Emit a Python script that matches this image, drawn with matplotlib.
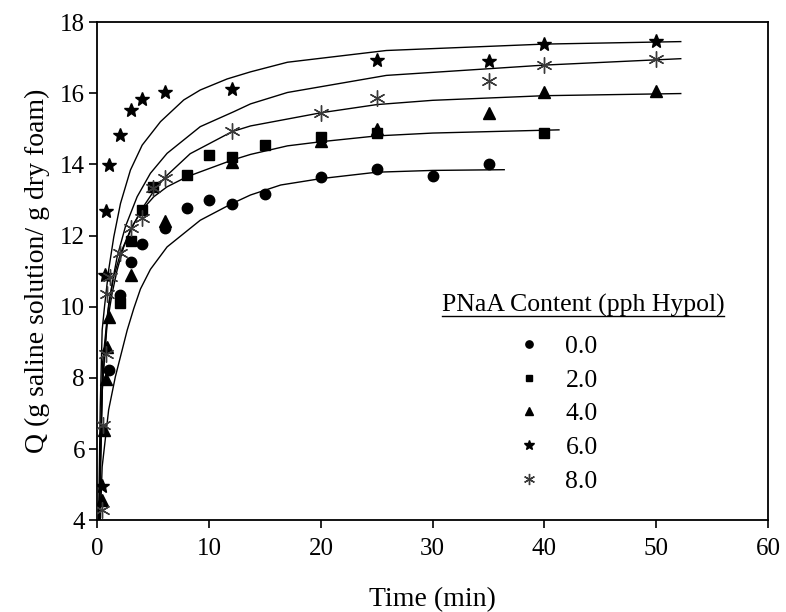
import matplotlib
matplotlib.use("Agg")
import matplotlib.pyplot as plt
from matplotlib.lines import Line2D

plt.rcParams["font.family"] = ["Liberation Serif", "DejaVu Serif"]

# ---------------------------------------------------------------
# Swelling data: Q (g saline / g dry foam) vs time (min)
# ---------------------------------------------------------------
t_00 = [1, 2, 3, 4, 6, 8, 10, 12, 15, 20, 25, 30, 35]
q_00 = [8.22, 10.33, 11.26, 11.76, 12.22, 12.77, 12.99, 12.9, 13.17, 13.64, 13.87, 13.67, 14.01]

t_20 = [2, 3, 4, 5, 8, 10, 12, 15, 20, 25, 40]
q_20 = [10.09, 11.85, 12.73, 13.37, 13.7, 14.26, 14.2, 14.55, 14.77, 14.87, 14.89]

t_40 = [0.42, 0.55, 0.72, 0.87, 1.0, 3, 6, 12, 20, 25, 35, 40, 50]
q_40 = [4.58, 6.53, 7.96, 8.88, 9.7, 10.89, 12.42, 14.07, 14.65, 15.0, 15.43, 16.03, 16.06]

t_60 = [0.42, 0.7, 0.8, 1.0, 2, 3, 4, 6, 12, 25, 35, 40, 50]
q_60 = [4.97, 10.89, 12.69, 13.98, 14.82, 15.53, 15.83, 16.04, 16.12, 16.92, 16.91, 17.39, 17.48]

t_80 = [0.42, 0.5, 0.72, 0.87, 1.1, 2, 3, 4, 5, 6, 12, 20, 25, 35, 40, 50]
q_80 = [4.3, 6.67, 8.68, 10.37, 10.84, 11.5, 12.2, 12.5, 13.33, 13.62, 14.94, 15.45, 15.86, 16.35, 16.78, 16.97]

# fitted curves
fit_t_00 = [0.25, 0.42, 1.0, 1.6, 2.66, 3.25, 3.85, 4.74, 6.23, 9.2, 12.05, 13.7, 16.4, 20, 25, 30, 36.4]
fit_q_00 = [4.0, 5.5, 7.1, 8.03, 9.34, 9.95, 10.5, 11.05, 11.68, 12.43, 12.9, 13.14, 13.42, 13.6, 13.78, 13.83, 13.85]

fit_t_20 = [0.17, 0.45, 0.87, 1.31, 1.76, 2.35, 3.1, 4.0, 5.04, 6.23, 8.0, 9.2, 12.05, 13.7, 17, 20.1, 25, 30, 41.3]
fit_q_20 = [4.0, 7.9, 9.53, 10.37, 11.03, 11.68, 12.25, 12.72, 13.09, 13.37, 13.65, 13.79, 14.12, 14.28, 14.52, 14.64, 14.8, 14.88, 14.97]

fit_t_40 = [0.15, 0.45, 1.01, 1.46, 2.06, 2.95, 4.0, 5.04, 6.08, 8.3, 12.05, 13.7, 20, 25, 30, 40, 52.2]
fit_q_40 = [4.0, 8.4, 10.09, 10.84, 11.5, 12.15, 12.76, 13.25, 13.65, 14.3, 14.92, 15.08, 15.45, 15.68, 15.8, 15.93, 15.99]

fit_t_60 = [0.1, 0.25, 0.42, 0.63, 1.0, 1.46, 2.06, 2.95, 4.0, 5.64, 7.72, 9.2, 11.6, 13.7, 17, 25.85, 40, 52.2]
fit_q_60 = [4.0, 7.2, 9.34, 10.0, 11.03, 11.96, 12.9, 13.84, 14.54, 15.2, 15.81, 16.09, 16.4, 16.6, 16.87, 17.2, 17.38, 17.45]

fit_t_80 = [0.15, 0.4, 0.87, 1.31, 1.76, 2.5, 3.55, 4.74, 6.23, 9.2, 12.2, 13.7, 17, 25.85, 40, 52.2]
fit_q_80 = [4.0, 7.5, 9.72, 10.65, 11.4, 12.25, 13.09, 13.75, 14.31, 15.06, 15.48, 15.7, 16.02, 16.5, 16.79, 16.97]

labels = ["0.0", "2.0", "4.0", "6.0", "8.0"]

ASTERISK = (6, 2, 0)
styles = [
    dict(marker="o", ms=7.5, color="black"),
    dict(marker="s", ms=6.5, color="black"),
    dict(marker="^", ms=8, color="black"),
    dict(marker="*", ms=10.5, color="black"),
    dict(marker=ASTERISK, ms=11.5, color="#3a3a3a", mew=1.0),
]

series = [(t_00, q_00), (t_20, q_20), (t_40, q_40), (t_60, q_60), (t_80, q_80)]
fits = [(fit_t_00, fit_q_00), (fit_t_20, fit_q_20), (fit_t_40, fit_q_40),
        (fit_t_60, fit_q_60), (fit_t_80, fit_q_80)]

fig = plt.figure(figsize=(7.86, 6.12), dpi=100)
ax = fig.add_axes([0.124, 0.150, 0.853, 0.814])

for ft, fq in fits:
    ax.plot(ft, fq, color="black", lw=1.0, zorder=2)

handles = []
for (t, q), st, lab in zip(series, styles, labels):
    h, = ax.plot(t, q, linestyle="none", zorder=3, label=lab, **st)
    handles.append(h)

ax.set_xlim(0, 60)
ax.set_ylim(4, 18)
ax.set_xticks(range(0, 61, 10))
ax.set_yticks(range(4, 19, 2))
ax.tick_params(direction="out", length=6, width=1.2, labelsize=18,
               top=False, right=False)
ax.tick_params(axis="x", pad=7)
ax.tick_params(axis="y", pad=3)
for sp in ax.spines.values():
    sp.set_linewidth(1.3)

ax.set_xlabel("Time (min)", fontsize=20, labelpad=19)
ax.set_ylabel("Q (g saline solution/ g dry foam)", fontsize=20, labelpad=7)

leg = ax.legend(handles=handles, loc="upper left", bbox_to_anchor=(0.606, 0.398),
                frameon=False, fontsize=18.5, markerscale=0.7, handlelength=1.0,
                handletextpad=0.9, labelspacing=0.42, borderpad=0)

title = ax.text(0.724, 0.432, "PNaA Content (pph Hypol)", transform=ax.transAxes,
                ha="center", va="center", fontsize=18.5)

# underline the legend title
fig.canvas.draw()
bb = title.get_window_extent()
inv = fig.transFigure.inverted()
x0, y0 = inv.transform((bb.x0, bb.y0 + 1))
x1, _ = inv.transform((bb.x1, bb.y0 + 1))
fig.add_artist(Line2D([x0, x1], [y0, y0], transform=fig.transFigure,
                      color="black", lw=1.0))

fig.savefig("out.png", dpi=100)
